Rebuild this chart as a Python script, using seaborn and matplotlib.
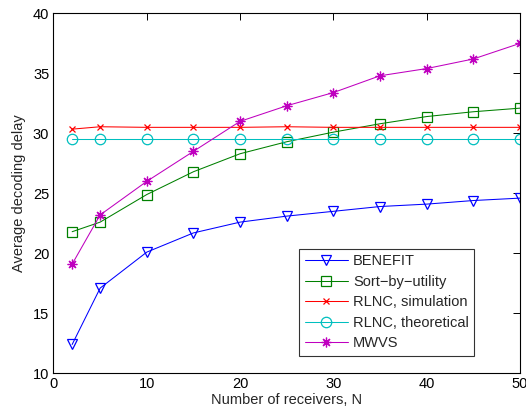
import numpy as np
import pandas as pd
import matplotlib
matplotlib.use("Agg")
import matplotlib.pyplot as plt
import seaborn as sns

receivers = [2, 5, 10, 15, 20, 25, 30, 35, 40, 45, 50]
benefit = [12.4, 17.1, 20.1, 21.7, 22.6, 23.1, 23.5, 23.9, 24.1, 24.4, 24.6]
sort_by_utility = [21.8, 22.6, 24.9, 26.8, 28.3, 29.3, 30.1, 30.8, 31.4, 31.8, 32.1]
rlnc_sim = [30.35, 30.55, 30.5, 30.5, 30.5, 30.55, 30.5, 30.5, 30.5, 30.5, 30.5]
rlnc_theo = [29.5, 29.5, 29.5, 29.5, 29.5, 29.5, 29.5, 29.5, 29.5, 29.5, 29.5]
mwvs = [19.1, 23.2, 26.0, 28.5, 31.0, 32.3, 33.4, 34.8, 35.4, 36.2, 37.5]

series_names = ["BENEFIT", "Sort\u2212by\u2212utility", "RLNC, simulation",
                "RLNC, theoretical", "MWVS"]
series_values = [benefit, sort_by_utility, rlnc_sim, rlnc_theo, mwvs]
colors = ["#0000ff", "#008000", "#ff0000", "#00bfbf", "#bf00bf"]
markers = ["v", "s", "x", "o", (8, 2, 0)]
marker_sizes = [7, 6.5, 5, 7.5, 7]

sns.set_style("white")
plt.rcParams["font.family"] = ["Liberation Sans", "DejaVu Sans"]
plt.rcParams["axes.unicode_minus"] = True
FS = 10.5

fig = plt.figure(figsize=(5.26, 4.18), dpi=100)
ax = fig.add_axes([0.1017, 0.107, 0.8869, 0.861])

for name, vals, c, m, ms in zip(series_names, series_values, colors, markers, marker_sizes):
    df = pd.DataFrame({"N": receivers, "delay": vals})
    hollow = m in ("v", "s", "o")
    sns.lineplot(data=df, x="N", y="delay", ax=ax, color=c, marker=m,
                 markersize=ms,
                 markerfacecolor="none" if hollow else c,
                 markeredgecolor=c, markeredgewidth=0.9,
                 linewidth=0.75, label=name)

ax.set_xlim(0, 50)
ax.set_ylim(10, 40)
ax.set_xticks(range(0, 51, 10))
ax.set_yticks(range(10, 41, 5))
ax.tick_params(direction="in", top=True, right=True, length=5, width=0.7,
               labelsize=FS, colors="black", pad=3)
for sp in ax.spines.values():
    sp.set_visible(True)
    sp.set_color("black")
    sp.set_linewidth(0.8)

ax.set_xlabel("Number of receivers, N", fontsize=FS, labelpad=1)
ax.set_ylabel("Average decoding delay", fontsize=FS, labelpad=5)

leg = ax.legend(loc="lower right", bbox_to_anchor=(0.902, 0.049), fontsize=FS,
                frameon=True, fancybox=False, edgecolor="black",
                borderaxespad=0, borderpad=0.38, labelspacing=0.44,
                handlelength=2.95, handletextpad=0.35)
leg.get_frame().set_linewidth(0.8)

fig.savefig("out.png", dpi=100, facecolor="white")
